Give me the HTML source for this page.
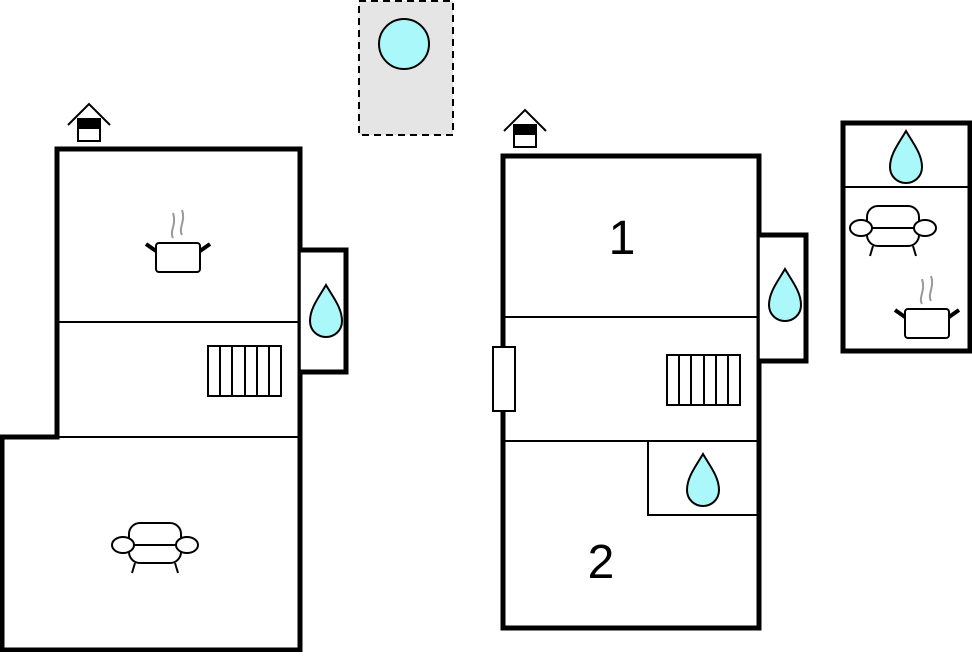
<!DOCTYPE html>
<html><head><style>body{margin:0;background:#fff}</style></head><body>
<svg width="972" height="652" viewBox="0 0 972 652" xmlns="http://www.w3.org/2000/svg">
<defs>
<g id="drop"><path d="M0,-26 C7,-14 16,-3 16,10 C16,20 8,26 0,26 C-8,26 -16,20 -16,10 C-16,-3 -7,-14 0,-26Z" fill="#aaf8fa" stroke="#000" stroke-width="2"/></g>
<g id="pot" fill="none"><rect x="-22" y="-10" width="44" height="29" rx="3" fill="#fff" stroke="#000" stroke-width="2"/><line x1="-22" y1="-2" x2="-32" y2="-9" stroke="#000" stroke-width="4"/><line x1="22" y1="-2" x2="32" y2="-9" stroke="#000" stroke-width="4"/><path d="M-5,-15 C-9,-22 -1,-28 -5,-40 M4,-18 C0,-25 8,-32 4,-43" stroke="#999" stroke-width="2"/></g>
<g id="sofa" fill="#fff" stroke="#000" stroke-width="2"><rect x="-26" y="-19" width="52" height="40" rx="11"/><line x1="-26" y1="3" x2="26" y2="3"/><ellipse cx="-32" cy="3" rx="11" ry="8"/><ellipse cx="32" cy="3" rx="11" ry="8"/><line x1="-20" y1="21" x2="-23" y2="31"/><line x1="20" y1="21" x2="23" y2="31"/></g>
<g id="stairs" fill="#fff" stroke="#000" stroke-width="2"><rect x="0" y="0" width="73" height="50"/><line x1="12" y1="0" x2="12" y2="50"/><line x1="24" y1="0" x2="24" y2="50"/><line x1="37" y1="0" x2="37" y2="50"/><line x1="49" y1="0" x2="49" y2="50"/><line x1="61" y1="0" x2="61" y2="50"/></g>
<g id="entry"><path d="M-21,1 L0,-20 L21,1" fill="none" stroke="#000" stroke-width="2"/><rect x="-11" y="-5" width="22" height="22" fill="#fff" stroke="#000" stroke-width="2"/><rect x="-11" y="-5" width="22" height="10" fill="#000"/></g>
</defs>
<rect x="359" y="1" width="94" height="134" fill="#e5e5e5" stroke="#000" stroke-width="2" stroke-dasharray="7,5"/>
<circle cx="404" cy="44" r="25" fill="#aaf8fa" stroke="#000" stroke-width="2"/>
<use href="#entry" x="89" y="124"/>
<line x1="57" y1="322" x2="300" y2="322" stroke="#000" stroke-width="2"/>
<line x1="57" y1="437" x2="300" y2="437" stroke="#000" stroke-width="2"/>
<path d="M57,437 L57,149 L300,149 L300,650 L2,650 L2,437 Z" fill="none" stroke="#000" stroke-width="5"/>
<path d="M300,250 L346,250 L346,372 L300,372" fill="#fff" stroke="#000" stroke-width="5"/>
<line x1="300" y1="252" x2="300" y2="370" stroke="#000" stroke-width="1.5"/>
<use href="#drop" x="326" y="311"/>
<use href="#pot" x="178" y="253"/>
<use href="#stairs" x="208" y="346"/>
<use href="#sofa" x="155" y="542"/>
<use href="#entry" x="525" y="130"/>
<line x1="503" y1="317" x2="759" y2="317" stroke="#000" stroke-width="2"/>
<line x1="503" y1="441" x2="759" y2="441" stroke="#000" stroke-width="2"/>
<rect x="648" y="441" width="110" height="74" fill="#fff" stroke="#000" stroke-width="2"/>
<rect x="503" y="156" width="256" height="472" fill="none" stroke="#000" stroke-width="5"/>
<path d="M759,235 L806,235 L806,361 L759,361" fill="#fff" stroke="#000" stroke-width="5"/>
<line x1="759" y1="237" x2="759" y2="359" stroke="#000" stroke-width="1.5"/>
<rect x="493" y="347" width="22" height="64" fill="#fff" stroke="#000" stroke-width="2"/>
<use href="#drop" x="785" y="295"/>
<use href="#drop" x="703" y="480"/>
<use href="#stairs" x="667" y="355"/>
<text x="622" y="254" font-family="Liberation Sans, sans-serif" font-size="48" text-anchor="middle">1</text>
<text x="601" y="578" font-family="Liberation Sans, sans-serif" font-size="48" text-anchor="middle">2</text>
<rect x="843" y="123" width="127" height="228" fill="none" stroke="#000" stroke-width="5"/>
<line x1="843" y1="187" x2="970" y2="187" stroke="#000" stroke-width="2"/>
<use href="#drop" x="906" y="157"/>
<use href="#sofa" x="893" y="225"/>
<use href="#pot" x="927" y="319"/>
</svg>
</body></html>
